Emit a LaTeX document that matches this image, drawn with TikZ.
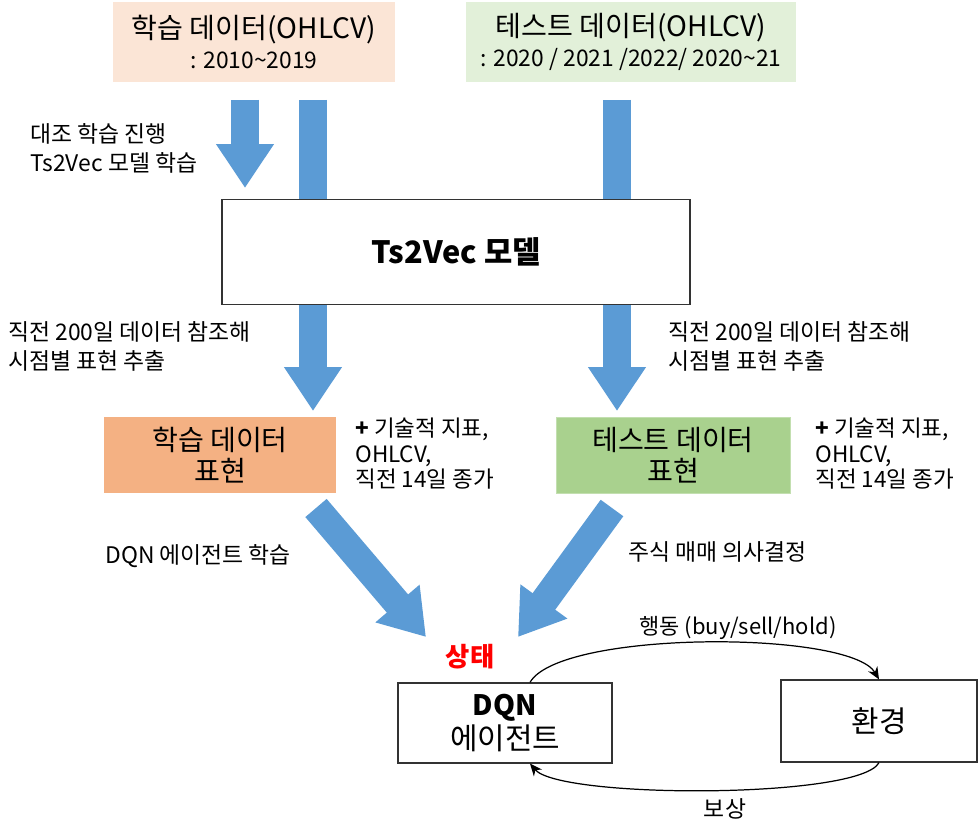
\documentclass[tikz,border=0pt]{standalone}
\usepackage{fontspec}
\setmainfont{Noto Sans CJK KR}
\usepackage{xcolor}
\usetikzlibrary{arrows.meta}
\usetikzlibrary{positioning}

\definecolor{fatblue}{HTML}{5B9BD5}
\definecolor{peach}{HTML}{FBE5D6}
\definecolor{palegreen}{HTML}{E2F0D9}
\definecolor{repOrange}{HTML}{F4B183}
\definecolor{repGreen}{HTML}{A9D18E}

\begin{document}
\begin{tikzpicture}[x=0.02cm,y=-0.02cm,
    databox/.style={rectangle,inner sep=0pt,align=center,font=\fontsize{16}{17.5}\selectfont},
    plainbox/.style={rectangle,draw=black!80,line width=0.7pt,inner sep=0pt,align=center},
    note/.style={align=left,inner sep=0pt,font=\fontsize{13}{16.5}\selectfont},
    fatarrow/.style={draw=fatblue,line width=0.56cm,-{Triangle[length=0.88cm,width=1.1cm]}},
    fatbar/.style={draw=fatblue,line width=0.56cm},
    loopline/.style={draw=black,line width=0.7pt,-{Stealth[length=7pt,width=6pt]}}]
  \useasboundingbox (0,0) rectangle (978,824);

  % input data
  \node[databox,fill=peach,minimum width=5.64cm,minimum height=1.6cm] (trainraw) at (254,42)
    {학습 데이터(OHLCV)\\{\fontsize{13}{17}\selectfont : 2010\textasciitilde 2019}};
  \node[databox,fill=palegreen,minimum width=6.62cm,minimum height=1.6cm] (testraw) at (631,42)
    {테스트 데이터(OHLCV)\\{\fontsize{13}{17}\selectfont : 2020 / 2021 /2022/ 2020\textasciitilde 21}};

  % encoder
  \node[plainbox,minimum width=9.36cm,minimum height=2.1cm,font=\fontsize{17.5}{20}\selectfont\bfseries] (ts2vec) at (456,252) {Ts2Vec 모델};

  % representations
  \node[databox,fill=repOrange,minimum width=4.64cm,minimum height=1.52cm] (trainrep) at (220,455) {학습 데이터\\표현};
  \node[databox,fill=repGreen,draw=repGreen!70,minimum width=4.68cm,minimum height=1.52cm] (testrep) at (673,455) {테스트 데이터\\표현};

  % rl loop
  \node[plainbox,minimum width=4.28cm,minimum height=1.6cm,font=\fontsize{17}{19}\selectfont] (agent) at (505,723) {{\fontsize{16}{19}\selectfont\textbf{DQN}}\\에이전트};
  \node[plainbox,minimum width=3.92cm,minimum height=1.64cm,font=\fontsize{17}{19}\selectfont] (env) at (879,721) {환경};

  % arrow ends
  \coordinate (cl) at (245,100);
  \coordinate (cltip) at (245,188);
  \coordinate (trin) at (313,100);
  \coordinate (tein) at (617,100);
  \coordinate (trout) at (313,411);
  \coordinate (teout) at (617,411);
  \coordinate (trgo) at (316,508);
  \coordinate (trtip) at (426,637);
  \coordinate (tego) at (612,508);
  \coordinate (tetip) at (518,637);

  \draw[fatarrow] (cl) -- (cltip);
  \draw[fatbar] (trin) -- (trin |- ts2vec.north);
  \draw[fatbar] (tein) -- (tein |- ts2vec.north);
  \draw[fatarrow] (trin |- ts2vec.south) -- (trout);
  \draw[fatarrow] (tein |- ts2vec.south) -- (teout);
  \draw[fatarrow] (trgo) -- (trtip);
  \draw[fatarrow] (tego) -- (tetip);

  \draw[loopline] ([xshift=0.5cm]agent.north) .. controls (560,630) and (850,630) .. (env.north);
  \draw[loopline] (env.south) .. controls (860,799) and (560,799) .. ([xshift=0.5cm]agent.south);

  % labels
  \node[note,anchor=west] (cltext) at (30,148) {대조 학습 진행\\Ts2Vec 모델 학습};
  \node[note,anchor=west] (trtext) at (8,346) {직전 200일 데이터 참조해\\시점별 표현 추출};
  \node[note,anchor=west] (tetext) at (668,346) {직전 200일 데이터 참조해\\시점별 표현 추출};
  \node[note,anchor=north west,font=\fontsize{12.8}{14.3}\selectfont] (trextra) at (355,418) {\textbf{+} 기술적 지표,\\OHLCV,\\직전 14일 종가};
  \node[note,anchor=north west,font=\fontsize{12.8}{14.3}\selectfont] (teextra) at (815,418) {\textbf{+} 기술적 지표,\\OHLCV,\\직전 14일 종가};
  \node[note,anchor=west] (trlearn) at (105,556) {DQN 에이전트 학습};
  \node[note,anchor=west] (tedecide) at (628,552) {주식 매매 의사결정};
  \node[note,text=red,font=\fontsize{15}{17}\selectfont\bfseries] (state) at (470,657) {상태};
  \node[note,font=\fontsize{12.5}{15}\selectfont] (act) at (738,628) {행동 (buy/sell/hold)};
  \node[note] (reward) at (725,809) {보상};
\end{tikzpicture}
\end{document}
